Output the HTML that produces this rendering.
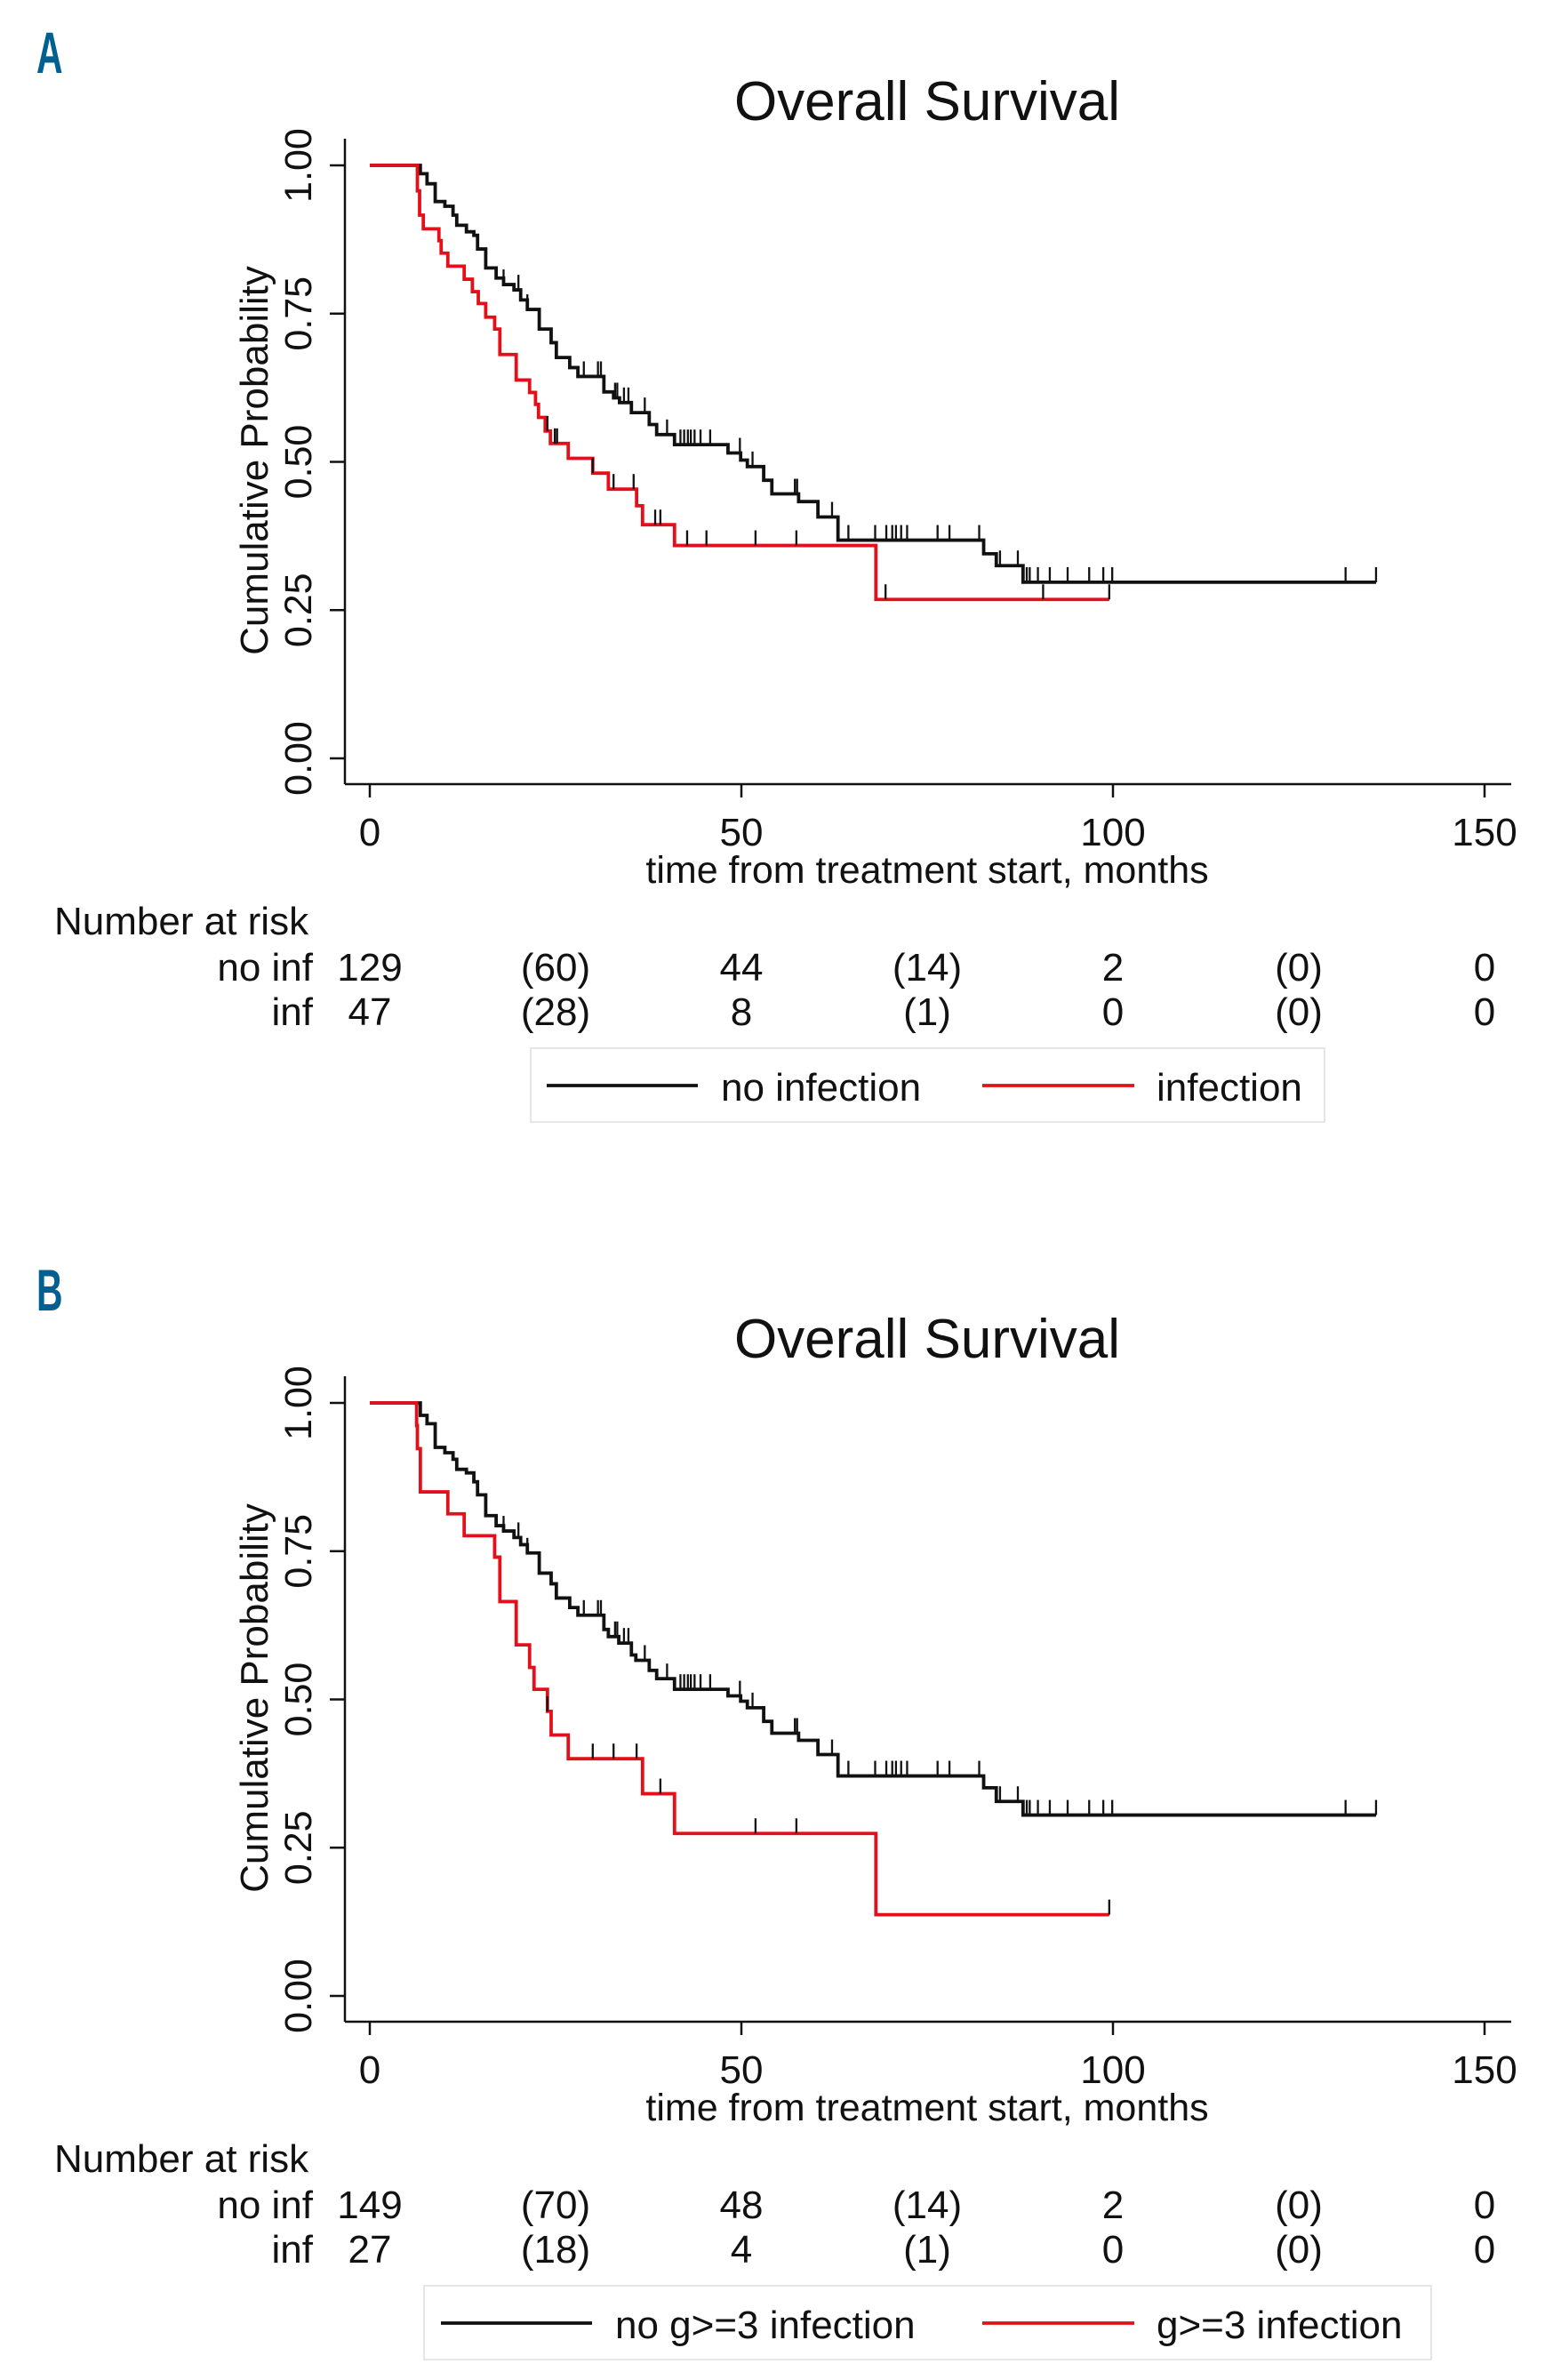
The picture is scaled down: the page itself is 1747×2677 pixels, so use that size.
<!DOCTYPE html>
<html><head><meta charset="utf-8"><title>Overall Survival</title>
<style>
html,body{margin:0;padding:0;background:#fff;}
svg{display:block;}
text{font-family:"Liberation Sans",sans-serif;fill:#111;}
</style></head>
<body>
<svg id="fig" width="1747" height="2677" viewBox="0 0 1747 2677" xmlns="http://www.w3.org/2000/svg"></svg>
<script>
// ---- axis ticks ----
const xTicks = [0, 50, 100, 150];
const yTicks = [0, 0.25, 0.5, 0.75, 1.0];
const yTickLabels = ["0.00", "0.25", "0.50", "0.75", "1.00"];
const riskTimes = [0, 25, 50, 75, 100, 125, 150];

// ---- Panel A ----
const aBlackT = [0, 6.8, 7.7, 8.8, 10.1, 11.2, 11.7, 13.0, 14.0, 14.5, 15.6, 17.0, 18.0, 19.4, 20.3, 21.2, 22.8, 24.4, 25.1, 26.9, 28.0, 31.5, 32.8, 33.6, 35.2, 37.6, 38.6, 41.0, 48.2, 49.9, 50.8, 53.0, 54.1, 57.7, 60.3, 63.0, 82.6, 84.3, 87.9];
const aBlackS = [1, 0.986, 0.969, 0.939, 0.931, 0.916, 0.899, 0.888, 0.882, 0.859, 0.827, 0.810, 0.799, 0.790, 0.773, 0.757, 0.724, 0.701, 0.676, 0.659, 0.644, 0.618, 0.608, 0.600, 0.583, 0.563, 0.546, 0.529, 0.515, 0.503, 0.492, 0.469, 0.446, 0.433, 0.407, 0.368, 0.345, 0.325, 0.297];
const aBlackEnd = 135.4;
const aBlackCens = [18.0, 20.0, 21.2, 28.8, 30.7, 31.1, 33.0, 33.3, 34.2, 34.8, 37.0, 40.0, 41.8, 42.3, 42.8, 43.2, 43.7, 44.5, 45.8, 49.8, 51.5, 53.0, 57.2, 57.5, 62.2, 64.4, 68.0, 69.5, 70.3, 70.8, 71.5, 72.3, 76.4, 78.0, 82.0, 84.8, 87.2, 88.4, 88.8, 89.9, 91.5, 93.9, 96.8, 98.7, 99.9, 131.3, 135.4];
const aRedT = [0, 6.4, 6.7, 7.2, 9.3, 9.6, 10.5, 12.7, 13.8, 14.6, 15.6, 16.8, 17.5, 19.7, 21.5, 22.3, 22.7, 23.6, 24.3, 26.7, 30.0, 32.1, 35.9, 36.7, 41.0, 68.1];
const aRedS = [1, 0.957, 0.916, 0.893, 0.873, 0.852, 0.830, 0.808, 0.787, 0.767, 0.744, 0.724, 0.681, 0.638, 0.617, 0.597, 0.575, 0.552, 0.531, 0.506, 0.481, 0.454, 0.426, 0.394, 0.359, 0.268];
const aRedEnd = 99.5;
const aRedCens = [23.9, 24.9, 25.2, 30.0, 32.8, 35.5, 38.4, 39.1, 42.7, 45.3, 51.9, 57.4, 69.4, 90.6, 99.5];
const aRiskNoInf = ["129", "(60)", "44", "(14)", "2", "(0)", "0"];
const aRiskInf = ["47", "(28)", "8", "(1)", "0", "(0)", "0"];

// ---- Panel B ----
const bBlackT = [0, 6.8, 7.7, 8.8, 10.1, 11.2, 11.7, 13.0, 14.0, 14.5, 15.6, 17.0, 18.0, 19.4, 20.3, 21.2, 22.8, 24.4, 25.1, 26.9, 28.0, 31.5, 32.1, 33.5, 35.2, 35.8, 37.6, 38.6, 41.0, 48.2, 49.9, 50.8, 53.0, 54.1, 57.7, 60.3, 63.0, 82.6, 84.3, 87.9];
const bBlackS = [1, 0.979, 0.965, 0.925, 0.916, 0.905, 0.888, 0.882, 0.867, 0.845, 0.810, 0.793, 0.784, 0.773, 0.761, 0.747, 0.713, 0.695, 0.671, 0.655, 0.642, 0.618, 0.606, 0.595, 0.575, 0.566, 0.549, 0.535, 0.517, 0.506, 0.497, 0.486, 0.463, 0.443, 0.431, 0.407, 0.371, 0.351, 0.328, 0.305];
const bBlackEnd = 135.4;
const bBlackCens = aBlackCens;
const bRedT = [0, 6.3, 6.4, 6.8, 10.5, 12.7, 16.8, 17.5, 19.7, 21.5, 22.1, 23.9, 24.4, 26.7, 36.7, 41.0, 68.1];
const bRedS = [1, 0.962, 0.923, 0.850, 0.813, 0.776, 0.740, 0.665, 0.592, 0.554, 0.517, 0.480, 0.440, 0.400, 0.341, 0.274, 0.137];
const bRedEnd = 99.5;
const bRedCens = [23.9, 30.0, 32.8, 35.9, 39.1, 51.9, 57.4, 99.5];
const bRiskNoInf = ["149", "(70)", "48", "(14)", "2", "(0)", "0"];
const bRiskInf = ["27", "(18)", "4", "(1)", "0", "(0)", "0"];

const NS = "http://www.w3.org/2000/svg";
const svg = document.getElementById("fig");
const RED = "#e3101b", BLK = "#111";

function mk(tag, attrs, parent) {
  const e = document.createElementNS(NS, tag);
  for (const k in attrs) e.setAttribute(k, attrs[k]);
  (parent || svg).appendChild(e);
  return e;
}

function panel(off, letter, bT, bS, bEnd, bC, rT, rS, rEnd, rC, riskA, riskB, legA, legB, legBox) {
  const g = mk("g", {});
  
  
  const X = t => 416 + t * (1254 / 150);
  const Y = s => off + 853 - s * 667;

  const lab = mk("text", {x: 0, y: 0, "font-size": 66, "font-weight": "bold", transform: `translate(41,${off + 82}) scale(0.62,1)`, style: "fill:#00608f"}, g);
  lab.textContent = letter;
  
  

  const title = mk("text", {x: 1043, y: off + 135, "font-size": 62, "text-anchor": "middle"}, g);
  title.textContent = "Overall Survival";
  
  

  const ya = mk("line", {x1: 388, y1: off + 156, x2: 388, y2: off + 882, stroke: BLK, "stroke-width": 2.5}, g);
  
  
  const xa = mk("line", {x1: 388, y1: off + 882, x2: 1700, y2: off + 882, stroke: BLK, "stroke-width": 2.5}, g);
  
  

  yTicks.forEach((v, i) => {
    const tk = mk("line", {x1: 371, y1: Y(v), x2: 388, y2: Y(v), stroke: BLK, "stroke-width": 2.5}, g);
    
    
    const tl = mk("text", {x: 0, y: 0, "font-size": 43, "text-anchor": "middle", transform: `translate(350,${Y(v)}) rotate(-90)`}, g);
    tl.textContent = yTickLabels[i];
    
    
  });
  const yt = mk("text", {x: 0, y: 0, "font-size": 44, "text-anchor": "middle", transform: `translate(301,${off + 518}) rotate(-90)`}, g);
  yt.textContent = "Cumulative Probability";
  
  

  xTicks.forEach(v => {
    const tk = mk("line", {x1: X(v), y1: off + 882, x2: X(v), y2: off + 897, stroke: BLK, "stroke-width": 2.5}, g);
    
    
    const tl = mk("text", {x: X(v), y: off + 951, "font-size": 44, "text-anchor": "middle"}, g);
    tl.textContent = String(v);
    
    
  });
  const xt = mk("text", {x: 1043, y: off + 993, "font-size": 43, "text-anchor": "middle"}, g);
  xt.textContent = "time from treatment start, months";
  
  

  function curve(T, S, end, C, color, name) {
    let d = `M${X(T[0])},${Y(S[0])}`;
    for (let i = 1; i < T.length; i++) d += ` H${X(T[i])} V${Y(S[i])}`;
    d += ` H${X(end)}`;
    const p = mk("path", {d: d, fill: "none", stroke: color, "stroke-width": 3.8, "stroke-linejoin": "miter"}, g);
    
    
    C.forEach(c => {
      let s = S[0];
      for (let i = 0; i < T.length; i++) if (T[i] <= c) s = S[i];
      const m = mk("line", {x1: X(c), y1: Y(s), x2: X(c), y2: Y(s) - 17, stroke: BLK, "stroke-width": 2.3}, g);
      
      
    });
  }
  curve(bT, bS, bEnd, bC, BLK, "no-infection");
  curve(rT, rS, rEnd, rC, RED, "infection");

  const nr = mk("text", {x: 61, y: off + 1051, "font-size": 44}, g);
  nr.textContent = "Number at risk";
  
  
  [["no inf", riskA, 1103], ["inf", riskB, 1153]].forEach(([lbl, vals, yy]) => {
    const l = mk("text", {x: 352, y: off + yy, "font-size": 44, "text-anchor": "end"}, g);
    l.textContent = lbl;
    
    
    riskTimes.forEach((t, i) => {
      const v = mk("text", {x: X(t), y: off + yy, "font-size": 44, "text-anchor": "middle"}, g);
      v.textContent = vals[i];
      
      
    });
  });

  const lg = mk("g", {}, g);
  
  
  mk("rect", {x: legBox[0], y: off + 1179, width: legBox[1] - legBox[0], height: 83, fill: "#fff", stroke: "#e6e6e6", "stroke-width": 2}, lg);
  const e1 = mk("line", {x1: legBox[2], y1: off + 1221, x2: legBox[2] + 170, y2: off + 1221, stroke: BLK, "stroke-width": 3.8}, lg);
  
  
  const t1 = mk("text", {x: legBox[2] + 196, y: off + 1238, "font-size": 44}, lg);
  t1.textContent = legA;
  
  
  const e2 = mk("line", {x1: 1105, y1: off + 1221, x2: 1276, y2: off + 1221, stroke: RED, "stroke-width": 3.8}, lg);
  
  
  const t2 = mk("text", {x: 1301, y: off + 1238, "font-size": 44}, lg);
  t2.textContent = legB;
  
  
}

panel(0, "A", aBlackT, aBlackS, aBlackEnd, aBlackCens, aRedT, aRedS, aRedEnd, aRedCens, aRiskNoInf, aRiskInf, "no infection", "infection", [597, 1490, 615]);
panel(1392, "B", bBlackT, bBlackS, bBlackEnd, bBlackCens, bRedT, bRedS, bRedEnd, bRedCens, bRiskNoInf, bRiskInf, "no g>=3 infection", "g>=3 infection", [477, 1610, 496]);
</script>
</body></html>
